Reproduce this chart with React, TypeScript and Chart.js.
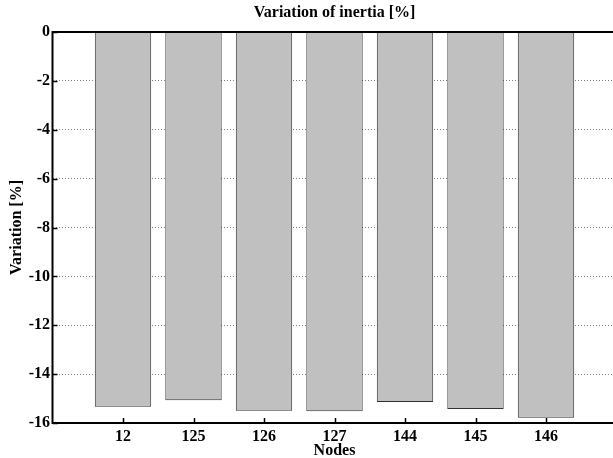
import React, { useEffect, useRef } from "react";
import { Chart, registerables } from "chart.js";

Chart.register(...registerables);

const nodes = ["12", "125", "126", "127", "144", "145", "146"];
const variation = [-15.33, -15.07, -15.5, -15.52, -15.14, -15.43, -15.79];
const yTicks = [0, -2, -4, -6, -8, -10, -12, -14, -16];
const chartTitle = "Variation of inertia [%]";

const FONT = "'Liberation Serif', 'Times New Roman', serif";

const axisBox = {
  id: "axisBox",
  afterDraw(chart: any) {
    const { ctx, chartArea, scales } = chart;
    const { left, right, top, bottom } = chartArea;
    ctx.save();
    ctx.strokeStyle = "#000";
    ctx.lineWidth = 1.5;
    ctx.beginPath();
    scales.y.ticks.forEach((t: any) => {
      const py = Math.round(scales.y.getPixelForValue(t.value)) + 0.5;
      ctx.moveTo(left, py);
      ctx.lineTo(left + 5, py);
    });
    scales.x.ticks.forEach((t: any) => {
      const px = Math.round(scales.x.getPixelForValue(t.value)) + 0.5;
      ctx.moveTo(px, bottom);
      ctx.lineTo(px, bottom - 5);
    });
    ctx.stroke();
    ctx.lineWidth = 2;
    ctx.strokeRect(left, top, right - left, bottom - top);
    // title centred over the plot area
    ctx.fillStyle = "#000";
    ctx.font = `bold 16px ${FONT}`;
    ctx.textAlign = "center";
    ctx.textBaseline = "middle";
    ctx.fillText(chartTitle, (left + right) / 2, top - 19);
    ctx.restore();
  },
};

export default function App() {
  const ref = useRef<HTMLCanvasElement | null>(null);
  useEffect(() => {
    if (!ref.current) return;
    const chart = new Chart(ref.current, {
      type: "bar",
      data: {
        datasets: [
          {
            data: variation.map((v, i) => ({ x: i + 1, y: v })),
            backgroundColor: "#c0c0c0",
            borderColor: "#333",
            borderWidth: 1,
            barPercentage: 0.8,
            categoryPercentage: 1,
          },
        ],
      },
      options: {
        responsive: false,
        animation: false,
        layout: { padding: { left: 0, right: 53.5, top: 32, bottom: 0 } },
        plugins: {
          legend: { display: false },
          tooltip: { enabled: false },
          title: { display: false },
        },
        scales: {
          x: {
            type: "linear",
            min: 0,
            max: 8,
            offset: false,
            grid: { display: false, drawTicks: false },
            border: { display: false },
            afterBuildTicks: (s: any) => {
              s.ticks = nodes.map((_, i) => ({ value: i + 1 }));
            },
            afterFit: (s: any) => {
              s.height = 42;
            },
            ticks: {
              color: "#000",
              font: { family: FONT, size: 16, weight: "bold" },
              padding: 4,
              maxRotation: 0,
              autoSkip: false,
              callback: (v: any) => nodes[Number(v) - 1] ?? "",
            },
            title: {
              display: true,
              text: "Nodes",
              color: "#000",
              font: { family: FONT, size: 16, weight: "bold" },
              padding: { top: 0, bottom: 4.5 },
            },
          },
          y: {
            min: -16,
            max: 0,
            afterBuildTicks: (s: any) => {
              s.ticks = yTicks.map((v) => ({ value: v }));
            },
            afterFit: (s: any) => {
              s.width = 52.5;
            },
            grid: { color: "#808080", lineWidth: 1, drawTicks: false },
            border: { display: false, dash: [1, 2] },
            ticks: {
              color: "#000",
              font: { family: FONT, size: 16, weight: "bold" },
              padding: 2.5,
            },
            title: {
              display: true,
              text: "Variation [%]",
              color: "#000",
              font: { family: FONT, size: 16, weight: "bold" },
              padding: { top: 7.4, bottom: 0 },
            },
          },
        },
      },
      plugins: [axisBox],
    });
    return () => chart.destroy();
  }, []);
  return (
    <div
      style={{
        position: "fixed",
        left: 0,
        top: 0,
        width: 613,
        height: 458,
        overflow: "hidden",
        background: "#fff",
      }}
    >
      <canvas ref={ref} width={670} height={465} style={{ display: "block" }} />
    </div>
  );
}
